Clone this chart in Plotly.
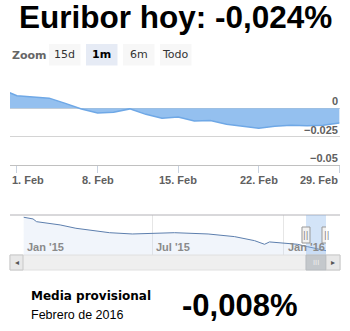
import plotly.graph_objects as go

# ---------------- data ----------------
dates = ["2016-01-29", "2016-02-01", "2016-02-02", "2016-02-03", "2016-02-04", "2016-02-05",
         "2016-02-08", "2016-02-09", "2016-02-10", "2016-02-11", "2016-02-12",
         "2016-02-15", "2016-02-16", "2016-02-17", "2016-02-18", "2016-02-19",
         "2016-02-22", "2016-02-23", "2016-02-24", "2016-02-25", "2016-02-26", "2016-02-29"]
values = [0.0170, 0.0111, 0.0099, 0.0090, 0.0044, -0.0006,
          -0.0041, -0.0035, -0.0005, -0.0053, -0.0088,
          -0.0076, -0.0111, -0.0108, -0.0140, -0.0160,
          -0.0175, -0.0158, -0.0149, -0.0153, -0.0150, -0.0130]

x_tick_dates = ["2016-02-01", "2016-02-08", "2016-02-15", "2016-02-22", "2016-02-29"]
x_tick_labels = ["1. Feb", "8. Feb", "15. Feb", "22. Feb", "29. Feb"]
y_tick_vals = [-0.05, -0.025, 0, 0.025]
y_tick_labels = ["\u22120.05", "\u22120.025", "0", ""]

nav_dates = ["2015-01-02", "2015-01-15", "2015-01-20", "2015-02-22", "2015-03-16", "2015-04-09",
             "2015-05-02", "2015-06-03", "2015-07-07", "2015-08-01", "2015-09-17", "2015-10-24",
             "2015-11-21", "2015-12-05", "2015-12-12", "2016-01-02", "2016-01-20", "2016-02-03",
             "2016-02-22", "2016-02-29"]
nav_values = [0.325, 0.308, 0.280, 0.247, 0.213, 0.189,
              0.168, 0.155, 0.162, 0.168, 0.155, 0.128,
              0.087, 0.050, 0.074, 0.060, 0.050, 0.026,
              -0.008, -0.015]
nav_tick_dates = ["2015-01-01", "2015-07-01", "2016-01-01"]
nav_tick_labels = ["Jan '15", "Jul '15", "Jan '16"]
nav_bottom = -0.059
nav_top = 0.348
selected = ["2016-02-01", "2016-02-29"]

zoom_buttons = ["15d", "1m", "6m", "Todo"]
active_button = "1m"

title_text = "Euribor hoy: -0,024%"
avg_label = "Media provisional"
avg_period = "Febrero de 2016"
avg_value = "-0,008%"

W, H = 350, 331
def px(x):
    return x / W
def py(y):
    return 1 - y / H

fig = go.Figure()

# main area
fig.add_trace(go.Scatter(
    x=dates, y=values, mode="lines", fill="tozeroy",
    line=dict(color="#6fa8e6", width=1.5),
    fillcolor="rgba(124,178,236,0.82)",
    hoverinfo="skip", xaxis="x", yaxis="y", showlegend=False))

# navigator baseline + series
fig.add_trace(go.Scatter(
    x=[nav_dates[0], nav_dates[-1]], y=[nav_bottom, nav_bottom], mode="lines",
    line=dict(width=0), hoverinfo="skip", xaxis="x2", yaxis="y2", showlegend=False))
fig.add_trace(go.Scatter(
    x=nav_dates, y=nav_values, mode="lines", fill="tonexty",
    line=dict(color="#5d7fae", width=1),
    fillcolor="rgba(200,215,240,0.25)",
    hoverinfo="skip", xaxis="x2", yaxis="y2", showlegend=False))

shapes = []
annotations = []

# title
annotations.append(dict(text="<b>" + title_text + "</b>", x=px(175), y=py(17), xref="paper", yref="paper",
                        xanchor="center", yanchor="middle", showarrow=False,
                        font=dict(family="Liberation Sans", size=31.5, color="#000")))

# zoom buttons
annotations.append(dict(text="<b>Zoom</b>", x=px(10), y=py(55), xref="paper", yref="paper",
                        xanchor="left", yanchor="middle", showarrow=False,
                        font=dict(family="DejaVu Sans", size=11, color="#666")))
for i, lab in enumerate(zoom_buttons):
    x0 = 49 + i * 37
    act = lab == active_button
    shapes.append(dict(type="rect", xref="paper", yref="paper", x0=px(x0), x1=px(x0 + 31.5),
                       y0=py(65.5), y1=py(44), fillcolor="#e6ebf5" if act else "#f7f7f7",
                       line=dict(width=0), layer="below"))
    annotations.append(dict(text=("<b>" + lab + "</b>") if act else lab, x=px(x0 + 15.75), y=py(54.5),
                            xref="paper", yref="paper", xanchor="center", yanchor="middle",
                            showarrow=False,
                            font=dict(family="DejaVu Sans", size=11, color="#000" if act else "#333")))

# y tick labels (above gridlines, right aligned)
for v, lab in zip(y_tick_vals, y_tick_labels):
    if lab:
        annotations.append(dict(text="<b>" + lab + "</b>", x=px(340), y=v, xref="paper", yref="y",
                                xanchor="right", yanchor="middle", yshift=7, showarrow=False,
                                font=dict(family="Liberation Sans", size=11, color="#606060")))

# x tick labels
for i, (d, lab) in enumerate(zip(x_tick_dates, x_tick_labels)):
    if i == 0:
        a = dict(x=0, xref="x domain", xanchor="left")
    elif i == len(x_tick_dates) - 1:
        a = dict(x=1, xref="x domain", xanchor="right")
    else:
        a = dict(x=d, xref="x", xanchor="center")
    a.update(text="<b>" + lab + "</b>", y=py(180), yref="paper", yanchor="middle", showarrow=False,
             font=dict(family="Liberation Sans", size=11, color="#606060"))
    annotations.append(a)

# navigator outline
shapes.append(dict(type="line", xref="paper", yref="paper", x0=px(10), x1=px(340), y0=py(215), y1=py(215),
                   line=dict(color="#b2b1b6", width=1)))
# selection mask
shapes.append(dict(type="rect", xref="x2", yref="paper", x0=selected[0], x1=selected[1],
                   y0=py(255), y1=py(215), fillcolor="rgba(128,179,236,0.35)", line=dict(width=0)))
# handles
for d in selected:
    shapes.append(dict(type="rect", xref="x2", yref="paper", xsizemode="pixel", xanchor=d,
                       x0=-4, x1=4, y0=py(243), y1=py(227), fillcolor="#f2f2f2",
                       line=dict(color="#999", width=1)))
    annotations.append(dict(text="||", x=d, xref="x2", y=py(235), yref="paper", showarrow=False,
                            xanchor="center", yanchor="middle",
                            font=dict(family="DejaVu Sans", size=8, color="#777")))
# navigator tick labels
for d, lab in zip(nav_tick_dates, nav_tick_labels):
    annotations.append(dict(text="<b>" + lab + "</b>", x=d, xref="x2", y=py(247), yref="paper",
                            xanchor="left", xshift=2, yanchor="middle", showarrow=False,
                            font=dict(family="Liberation Sans", size=11, color="#8a8a8a")))

# scrollbar
shapes.append(dict(type="rect", xref="paper", yref="paper", x0=px(10), x1=px(340), y0=py(270), y1=py(255),
                   fillcolor="#efefef", line=dict(color="#e0e0e0", width=1)))
for (a0, a1, arrow) in [(10, 23, "\u25c2"), (326, 340, "\u25b8")]:
    shapes.append(dict(type="rect", xref="paper", yref="paper", x0=px(a0), x1=px(a1), y0=py(270), y1=py(255),
                       fillcolor="#e8e8e8", line=dict(color="#c8c8c8", width=1)))
    annotations.append(dict(text=arrow, x=px((a0 + a1) / 2), y=py(262.5), xref="paper", yref="paper",
                            xanchor="center", yanchor="middle", showarrow=False,
                            font=dict(family="DejaVu Sans", size=8, color="#555")))
shapes.append(dict(type="rect", xref="x2", yref="paper", x0=selected[0], x1=selected[1], y0=py(270), y1=py(255),
                   fillcolor="#c4c8cc", line=dict(color="#b8bcc0", width=1)))
annotations.append(dict(text="III", x="2016-02-15", xref="x2", y=py(262.5), yref="paper",
                        xanchor="center", yanchor="middle", showarrow=False,
                        font=dict(family="DejaVu Sans", size=7, color="#eee")))

# bottom info
annotations.append(dict(text="<b>" + avg_label + "</b>", x=px(29), y=py(296), xref="paper", yref="paper",
                        xanchor="left", yanchor="middle", showarrow=False,
                        font=dict(family="DejaVu Sans", size=12, color="#000")))
annotations.append(dict(text=avg_period, x=px(29), y=py(315), xref="paper", yref="paper",
                        xanchor="left", yanchor="middle", showarrow=False,
                        font=dict(family="Liberation Sans", size=12.5, color="#000")))
annotations.append(dict(text="<b>" + avg_value + "</b>", x=px(239), y=py(305), xref="paper", yref="paper",
                        xanchor="center", yanchor="middle", showarrow=False,
                        font=dict(family="Liberation Sans", size=31, color="#000")))

fig.update_layout(
    width=W, height=H, margin=dict(l=0, r=0, t=0, b=0),
    paper_bgcolor="white", plot_bgcolor="rgba(0,0,0,0)",
    showlegend=False, hovermode=False,
    xaxis=dict(type="date", domain=[px(10), px(340)],
               range=["2016-01-29 13:40", "2016-02-29 01:00"],
               rangebreaks=[dict(bounds=["sat", "mon"])],
               tickvals=x_tick_dates, showticklabels=False, ticks="outside", ticklen=7,
               tickcolor="#c8d2e0", showgrid=False, showline=True, linecolor="#c0c0c0",
               zeroline=False, fixedrange=True),
    yaxis=dict(domain=[py(165), py(80)], range=[-0.05, 0.025], tickvals=y_tick_vals,
               showticklabels=False, showgrid=True, gridcolor="#d4d4d4", zeroline=False,
               fixedrange=True),
    xaxis2=dict(type="date", domain=[px(23), px(326)], range=["2015-01-01", "2016-02-29"],
                anchor="y2", tickvals=nav_tick_dates, showticklabels=False, showgrid=True,
                gridcolor="#e6e6e6", showline=False, zeroline=False, fixedrange=True),
    yaxis2=dict(domain=[py(255), py(215)], range=[nav_bottom, nav_top], anchor="x2",
                showticklabels=False, showgrid=False, zeroline=False, fixedrange=True),
    shapes=shapes, annotations=annotations,
)

fig.write_html("out.html", config=dict(displayModeBar=False))
